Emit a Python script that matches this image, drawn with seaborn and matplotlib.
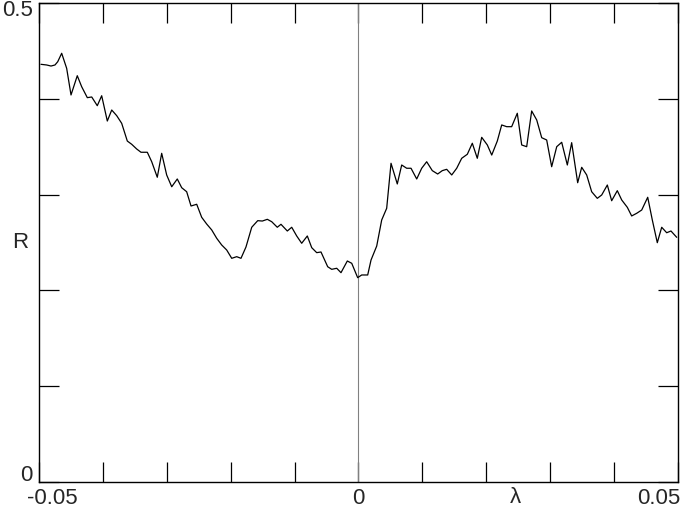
import numpy as np
import pandas as pd
import seaborn as sns
import matplotlib.pyplot as plt
from matplotlib.ticker import MultipleLocator, NullFormatter

# values
lam = [-0.04969, -0.04880, -0.04812, -0.04750, -0.04707, -0.04645, -0.04567, -0.04499,
       -0.04401, -0.04332, -0.04244, -0.04175, -0.04088, -0.04019, -0.03931, -0.03862,
       -0.03784, -0.03706, -0.03618, -0.03549, -0.03471, -0.03404, -0.03341, -0.03305,
       -0.03236, -0.03149, -0.03080, -0.03002, -0.02923, -0.02836, -0.02767, -0.02689,
       -0.02621, -0.02532, -0.02454, -0.02376, -0.02297, -0.02219, -0.02141, -0.02063,
       -0.01984, -0.01906, -0.01839, -0.01761, -0.01671, -0.01577, -0.01505, -0.01427,
       -0.01358, -0.01271, -0.01213, -0.01114, -0.01045, -0.00967, -0.00889, -0.00801,
       -0.00732, -0.00654, -0.00587, -0.00482, -0.00419, -0.00341, -0.00274, -0.00175,
       -0.00106, -0.00013, 0.00050, 0.00144, 0.00196, 0.00285, 0.00363, 0.00441,
       0.00509, 0.00607, 0.00676, 0.00754, 0.00822, 0.00911, 0.00989, 0.01067,
       0.01155, 0.01239, 0.01311, 0.01380, 0.01459, 0.01537, 0.01615, 0.01703,
       0.01781, 0.01859, 0.01928, 0.02016, 0.02085, 0.02172, 0.02241, 0.02319,
       0.02397, 0.02485, 0.02554, 0.02632, 0.02710, 0.02789, 0.02867, 0.02945,
       0.03023, 0.03102, 0.03180, 0.03268, 0.03336, 0.03430, 0.03493, 0.03571,
       0.03649, 0.03737, 0.03806, 0.03894, 0.03962, 0.04050, 0.04119, 0.04207,
       0.04275, 0.04354, 0.04432, 0.04526, 0.04598, 0.04676, 0.04745, 0.04823,
       0.04890, 0.04980]
R = [0.4360, 0.4353, 0.4342, 0.4353, 0.4387, 0.4475, 0.4318, 0.4040,
     0.4241, 0.4126, 0.4012, 0.4019, 0.3928, 0.4032, 0.3768, 0.3883,
     0.3824, 0.3744, 0.3559, 0.3525, 0.3476, 0.3442, 0.3442, 0.3442,
     0.3343, 0.3181, 0.3431, 0.3205, 0.3082, 0.3163, 0.3072, 0.3030,
     0.2881, 0.2899, 0.2763, 0.2693, 0.2631, 0.2544, 0.2474, 0.2422,
     0.2335, 0.2352, 0.2335, 0.2453, 0.2659, 0.2728, 0.2724, 0.2742,
     0.2717, 0.2659, 0.2690, 0.2620, 0.2659, 0.2568, 0.2492, 0.2568,
     0.2446, 0.2394, 0.2401, 0.2247, 0.2220, 0.2231, 0.2185, 0.2307,
     0.2283, 0.2133, 0.2161, 0.2161, 0.2317, 0.2463, 0.2735, 0.2857,
     0.3327, 0.3111, 0.3309, 0.3275, 0.3275, 0.3163, 0.3275, 0.3343,
     0.3250, 0.3215, 0.3250, 0.3264, 0.3205, 0.3275, 0.3379, 0.3421,
     0.3536, 0.3379, 0.3598, 0.3518, 0.3413, 0.3559, 0.3727, 0.3709,
     0.3709, 0.3849, 0.3518, 0.3500, 0.3873, 0.3779, 0.3594, 0.3570,
     0.3291, 0.3500, 0.3546, 0.3309, 0.3542, 0.3124, 0.3285, 0.3205,
     0.3030, 0.2961, 0.2996, 0.3100, 0.2936, 0.3041, 0.2944, 0.2867,
     0.2777, 0.2805, 0.2839, 0.2972, 0.2735, 0.2498, 0.2659, 0.2602,
     0.2620, 0.2554]

x_labels = ["-0.05", "0", "0.05"]
y_labels = ["0", "0.5"]

df = pd.DataFrame({"lam": lam, "R": R})

sns.set_style("white")
plt.rcParams["font.family"] = ["Liberation Sans", "DejaVu Sans"]

fig = plt.figure(figsize=(6.82, 5.08), dpi=100)
ax = fig.add_axes([39 / 682, 26 / 508, 639 / 682, 479 / 508])

ax.axvline(0, color="#808080", lw=0.8, zorder=1)
sns.lineplot(data=df, x="lam", y="R", sort=False, estimator=None,
             color="black", lw=0.9, ax=ax, zorder=2)

ax.set_xlim(-0.05, 0.05)
ax.set_ylim(0, 0.5)
ax.xaxis.set_major_locator(MultipleLocator(0.01))
ax.yaxis.set_major_locator(MultipleLocator(0.1))
ax.xaxis.set_major_formatter(NullFormatter())
ax.yaxis.set_major_formatter(NullFormatter())
ax.tick_params(direction="in", length=14.4, width=0.9, color="black",
               top=True, right=True, bottom=True, left=True)
for s in ax.spines.values():
    s.set_color("black")
    s.set_linewidth(1.0)
ax.set_xlabel("")
ax.set_ylabel("")

fs = 16
xt = ax.get_xaxis_transform()
yt = ax.get_yaxis_transform()
ax.text(-0.0519, -0.013, x_labels[0], transform=xt, ha="left", va="top", fontsize=fs)
ax.text(0.0, -0.013, x_labels[1], transform=xt, ha="center", va="top", fontsize=fs)
ax.text(0.0503, -0.013, x_labels[2], transform=xt, ha="right", va="top", fontsize=fs)
ax.text(-0.0095, -0.004, y_labels[0], transform=yt, ha="right", va="bottom", fontsize=fs)
ax.text(-0.0095, 0.5035, y_labels[1], transform=yt, ha="right", va="top", fontsize=fs)
ax.text(0.0245, -0.010, "λ", transform=xt, ha="center", va="top", fontsize=16)
ax.text(-0.0289, 0.25, "R", transform=yt, ha="center", va="center", fontsize=fs)

fig.savefig("out.png", dpi=100)
